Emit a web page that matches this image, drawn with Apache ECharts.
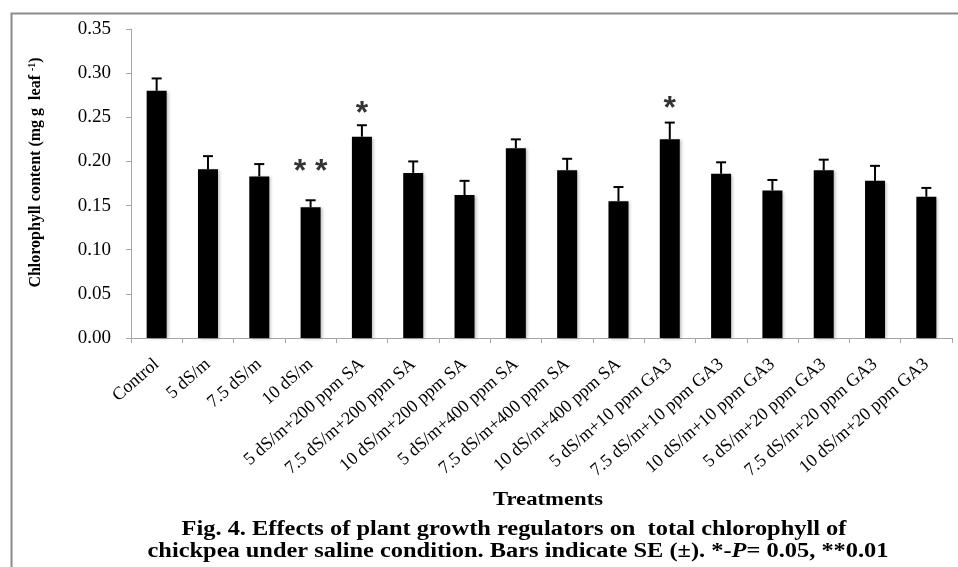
<!DOCTYPE html>
<html>
<head>
<meta charset="utf-8">
<script src="https://cdn.jsdelivr.net/npm/echarts@6/dist/echarts.min.js"></script>
<style>html,body{margin:0;padding:0;background:#fff;}#c{width:958px;height:567px;}</style>
</head>
<body>
<div id="c"></div>
<script>
var categories = ['Control','5 dS/m','7.5 dS/m','10 dS/m','5 dS/m+200 ppm SA','7.5 dS/m+200 ppm SA','10 dS/m+200 ppm SA','5 dS/m+400 ppm SA','7.5 dS/m+400 ppm SA','10 dS/m+400 ppm SA','5 dS/m+10 ppm GA3','7.5 dS/m+10 ppm GA3','10 dS/m+10 ppm GA3','5 dS/m+20 ppm GA3','7.5 dS/m+20 ppm GA3','10 dS/m+20 ppm GA3'];
var chlorophyll = [0.280,0.191,0.183,0.148,0.228,0.187,0.162,0.215,0.190,0.155,0.225,0.186,0.167,0.190,0.178,0.160];
var se = [0.014,0.015,0.014,0.008,0.013,0.013,0.016,0.010,0.013,0.016,0.019,0.013,0.012,0.012,0.017,0.010];
var significance = ['','','','* *','*','','','','','','*','','','','',''];
var starLevel = [0,0,0,0.197,0.2625,0,0,0,0,0,0.268,0,0,0,0,0];
var yTicks = [0,0.05,0.10,0.15,0.20,0.25,0.30,0.35];

var serif = '"Liberation Serif","Times New Roman",serif';
var chart = echarts.init(document.getElementById('c'));

var errData = categories.map(function(c,i){ return [i, chlorophyll[i], chlorophyll[i]+se[i]]; });
var starData = [];
significance.forEach(function(s,i){ if(s){ starData.push({value:[i, starLevel[i]], txt:s}); } });

chart.setOption({
  animation:false,
  backgroundColor:'#fff',
  grid:{left:131,right:6,top:29,bottom:229},
  xAxis:{
    type:'category', data:categories,
    axisLine:{lineStyle:{color:'#a6a6a6',width:1}},
    axisTick:{show:true,length:5,alignWithLabel:false,lineStyle:{color:'#a6a6a6'}},
    axisLabel:{rotate:41,interval:0,margin:24,color:'#000',fontFamily:serif,fontSize:18}
  },
  yAxis:{
    type:'value', min:0, max:0.35, interval:0.05,
    axisLine:{show:true,lineStyle:{color:'#a6a6a6',width:1}},
    axisTick:{show:true,length:5,lineStyle:{color:'#a6a6a6'}},
    splitLine:{show:false},
    axisLabel:{color:'#000',fontFamily:serif,fontSize:19,margin:20,formatter:function(v){return v.toFixed(2);}},
    name:'Chlorophyll content (mg g  leaf {sup|-1})',
    nameLocation:'middle', nameGap:86,
    nameTextStyle:{color:'#000',fontFamily:serif,fontSize:16,fontWeight:'bold',padding:[0,0,0,22],
      rich:{sup:{fontSize:10,fontFamily:serif,fontWeight:'bold',color:'#000',verticalAlign:'top',padding:[0,0,8,0]}}}
  },
  series:[
    {
      type:'bar', data:chlorophyll, barWidth:20,
      itemStyle:{color:'#000',shadowColor:'rgba(0,0,0,0.25)',shadowBlur:3,shadowOffsetX:2,shadowOffsetY:1}
    },
    {
      type:'custom', data:errData, z:5,
      renderItem:function(params, api){
        var p0 = api.coord([api.value(0), api.value(1)]);
        var p1 = api.coord([api.value(0), api.value(2)]);
        var st = {stroke:'#000', lineWidth:2};
        return {type:'group', children:[
          {type:'line', shape:{x1:p0[0],y1:p0[1],x2:p1[0],y2:p1[1]}, style:st},
          {type:'line', shape:{x1:p1[0]-5,y1:p1[1],x2:p1[0]+5,y2:p1[1]}, style:st}
        ]};
      }
    },
    {
      type:'scatter', data:starData, symbolSize:0, z:6,
      label:{show:true, position:'inside', offset:[0,8], color:'#000',
        fontFamily:'"Liberation Sans",Arial,sans-serif', fontSize:32, fontWeight:'bold',
        formatter:function(p){ return p.data.txt; }}
    }
  ],
  graphic:[
    {type:'rect', left:9, top:11, shape:{width:1000,height:600}, style:{fill:'none',stroke:'#8c8c8c',lineWidth:2}, silent:true},
    {type:'text', x:548, y:500, scaleX:1.26, style:{text:'Treatments', x:0, y:0, align:'center', verticalAlign:'middle', font:'bold 18px '+serif, fill:'#000'}},
    {type:'text', x:514, y:530, scaleX:1.22, style:{text:'Fig. 4. Effects of plant growth regulators on  total chlorophyll of', x:0, y:0, align:'center', verticalAlign:'middle', font:'bold 20px '+serif, fill:'#000'}},
    {type:'text', x:518, y:552, scaleX:1.22, style:{text:'chickpea under saline condition. Bars indicate SE (\u00b1). *-{i|P}= 0.05, **0.01', x:0, y:0, align:'center', verticalAlign:'middle', font:'bold 20px '+serif, fill:'#000',
      rich:{i:{font:'italic bold 20px '+serif, fill:'#000'}}}}
  ]
});
</script>
</body>
</html>
